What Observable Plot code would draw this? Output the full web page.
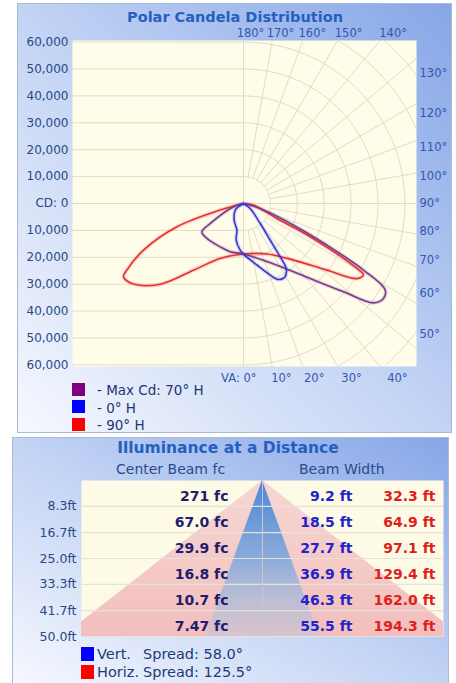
<!DOCTYPE html>
<html><head><meta charset="utf-8">
<script src="https://cdn.jsdelivr.net/npm/d3@7"></script>
<script src="https://cdn.jsdelivr.net/npm/@observablehq/plot@0.6"></script>
<style>
html,body{margin:0;padding:0;background:#fff;width:456px;height:683px;overflow:hidden;font-family:"DejaVu Sans",sans-serif;}
.panel{position:absolute;overflow:hidden;box-sizing:border-box;border:1px solid #a9b9d6;
 background:linear-gradient(to bottom left,#86a6e7 0%,#c2d3f4 50%,#f6f8fe 100%);}
.abs{position:absolute;white-space:pre;line-height:1;}
.sw{position:absolute;}
svg{max-width:none !important;}
</style></head><body>
<div id="p1" class="panel" style="left:17px;top:3px;width:435px;height:430px"></div>
<div id="p2" class="panel" style="left:12px;top:437px;width:437px;height:250px"></div>
<script>
// ---------------- DATA ----------------
// Polar candela distribution: candela by vertical angle (VA), per horizontal plane
const cdTicks = [60000,50000,40000,30000,20000,10000,0,-10000,-20000,-30000,-40000,-50000,-60000];
const cdTickLabels = ["60,000","50,000","40,000","30,000","20,000","10,000","CD: 0","10,000","20,000","30,000","40,000","50,000","60,000"];
const vaTicks = [0,10,20,30,40,50,60,70,80,90,100,110,120,130,140,150,160,170,180];
const vaTickLabels = ["VA: 0°","10°","20°","30°","40°","50°","60°","70°","80°","90°","100°","110°","120°","130°","140°","150°","160°","170°","180°"];

// Max Cd: 70° H (right half = 70° H, left half = 250° H)
const h70_va  = [0, 28.5, 41.6, 48.6, 52.6, 55.8, 58.6, 61, 63.5, 66.6, 73.3, 90];
const h70_cd  = [18800, 26100, 37300, 49600, 60800, 62900, 61700, 51000, 34600, 20300, 6500, 0];
const h250_va = [0, 15.4, 28.3, 46.3, 55.8, 59, 71.7, 90];
const h250_cd = [18800, 18600, 18300, 18800, 18700, 14400, 3900, 0];
// 0° H (right) / 180° H (left)
const h0_va   = [0, 12.3, 20.5, 24.7, 29.6, 33.3, 34.5, 36.1, 39.9, 53, 90];
const h0_cd   = [18800, 23400, 28400, 31100, 31300, 28900, 24000, 16800, 9700, 3100, 0];
const h180_va = [0, 4, 11.3, 13.9, 29.3, 51.5, 90];
const h180_cd = [18800, 17400, 13900, 10200, 7100, 3900, 0];
// 90° H (right) / 270° H (left)
const h90_va  = [0, 25, 41.5, 51.4, 56.5, 59.2, 60.2, 63.5, 65.8, 81, 90];
const h90_cd  = [18800, 20700, 28100, 39700, 50600, 51900, 48600, 27700, 13600, 3700, 0];
const h270_va = [0, 23, 36.9, 45.9, 53.8, 58.6, 60.3, 65, 70.7, 74.2, 90];
const h270_cd = [18800, 22200, 31000, 43100, 50700, 52300, 49900, 41000, 26200, 9000, 0];

const seriesNames  = ["- Max Cd: 70° H", "- 0° H", "- 90° H"];
const seriesColors = ["#800080", "#0000ff", "#ff0000"];
const lineColors   = ["#7a3a8c", "#3636dc", "#ea2e34"];

// Illuminance at a distance
const distFt       = [8.3, 16.7, 25.0, 33.3, 41.7, 50.0];
const distLabels   = ["8.3ft","16.7ft","25.0ft","33.3ft","41.7ft","50.0ft"];
const centerFc     = ["271 fc","67.0 fc","29.9 fc","16.8 fc","10.7 fc","7.47 fc"];
const vertWidthFt  = [9.2, 18.5, 27.7, 36.9, 46.3, 55.5];
const horizWidthFt = [32.3, 64.9, 97.1, 129.4, 162.0, 194.3];
const vertWidthLabels  = ["9.2 ft","18.5 ft","27.7 ft","36.9 ft","46.3 ft","55.5 ft"];
const horizWidthLabels = ["32.3 ft","64.9 ft","97.1 ft","129.4 ft","162.0 ft","194.3 ft"];
const spreadNames  = ["Vert.", "Horiz."];
const spreadValues = ["Spread: 58.0°", "Spread: 125.5°"];
const spreadColors = ["#0000ff", "#ff0000"];

// ---------------- helpers ----------------
const FONT = '"DejaVu Sans", sans-serif';
function place(panel, px, py, el) { // page coords -> panel coords (inside 1px border)
  const r = panel.getBoundingClientRect();
  el.style.left = (px - r.left - 1) + "px";
  el.style.top = (py - r.top - 1) + "px";
  panel.appendChild(el);
  return el;
}
function text(panel, str, x, baseline, size, opts = {}) {
  const el = document.createElement("div");
  el.className = "abs";
  el.textContent = str;
  el.style.fontSize = size + "px";
  el.style.fontFamily = FONT;
  el.style.color = opts.color || "#203a78";
  if (opts.bold) el.style.fontWeight = "bold";
  let top = baseline - 0.846 * size;
  if (opts.center) { el.style.width = "0px"; el.style.display = "flex"; el.style.justifyContent = "center"; }
  return place(panel, x, top, el);
}
function swatch(panel, x, y, s, color) {
  const el = document.createElement("div");
  el.className = "sw";
  el.style.width = s + "px"; el.style.height = s + "px"; el.style.background = color;
  return place(panel, x, y, el);
}

// ---------------- TOP PANEL ----------------
const p1 = document.getElementById("p1");
const rad = Math.PI / 180;
const pxPer10k = 26.9;
const cdPerPx = 10000 / pxPer10k;
const xDom = [-171 * cdPerPx, 173 * cdPerPx];
const yDom = [-163 * cdPerPx, 163 * cdPerPx];

function lobe(lva, lcd, rva, rcd) {
  const pts = [];
  for (let i = lva.length - 1; i >= 0; i--) pts.push({x: -lcd[i] * Math.sin(lva[i] * rad), y: -lcd[i] * Math.cos(lva[i] * rad)});
  for (let i = 1; i < rva.length; i++) pts.push({x: rcd[i] * Math.sin(rva[i] * rad), y: -rcd[i] * Math.cos(rva[i] * rad)});
  return pts;
}
const lobes = [
  lobe(h250_va, h250_cd, h70_va, h70_cd),
  lobe(h180_va, h180_cd, h0_va, h0_cd),
  lobe(h270_va, h270_cd, h90_va, h90_cd)
];

// grid geometry
const gridColor = "#e0dcc6";
const circles = [];
for (let r = 10000; r <= 90000; r += 10000)
  for (let a = 0; a <= 180; a += 2) circles.push({r, x: r * Math.sin(a * rad), y: -r * Math.cos(a * rad)});
const radials = vaTicks.map(a => {
  const r0 = (a % 90 === 0) ? 0 : 10000;
  return {x1: r0 * Math.sin(a * rad), y1: -r0 * Math.cos(a * rad), x2: 200000 * Math.sin(a * rad), y2: -200000 * Math.cos(a * rad)};
});
// angle tick labels at the frame edge along each ray
const vaLabels = vaTicks.map((a, i) => {
  const s = Math.sin(a * rad), c = Math.cos(a * rad);
  const tV = Math.abs(c) > 1e-9 ? yDom[1] / Math.abs(c) : Infinity;
  const tH = s > 1e-9 ? xDom[1] / s : Infinity;
  if (tV <= tH) {
    const yy = c > 0 ? -(yDom[1] + 12 * cdPerPx) : (yDom[1] + 7 * cdPerPx);
    const xx = Math.abs(yy) * s / Math.abs(c);
    return {x: xx, y: yy, label: vaTickLabels[i], side: a === 0 ? "nadir" : "tb"};
  }
  return {x: xDom[1], y: 0.9 * (-xDom[1] * c / s), label: vaTickLabels[i], side: "right"};
});
const angleStyle = {x: "x", y: "y", text: "label", fontSize: 11.5, fill: "#3158ae"};

const plot1 = Plot.plot({
  width: 456, height: 432,
  marginLeft: 72, marginRight: 40, marginTop: 40, marginBottom: 66,
  x: {domain: xDom, axis: null},
  y: {domain: yDom, axis: null},
  style: {background: "transparent", fontFamily: FONT, overflow: "visible", maxWidth: "none"},
  marks: [
    Plot.frame({fill: "#fffde9", stroke: "none"}),
    Plot.ruleY(cdTicks, {y: d => d, x1: () => xDom[0], x2: () => 0, stroke: gridColor, strokeWidth: 1}),
    Plot.line(circles, {x: "x", y: "y", z: "r", stroke: gridColor, strokeWidth: 1, clip: true}),
    Plot.link(radials, {x1: "x1", y1: "y1", x2: "x2", y2: "y2", stroke: gridColor, strokeWidth: 1, clip: true}),
    ...[2, 0, 1].flatMap(k => [
      Plot.line(lobes[k], {x: "x", y: "y", stroke: lineColors[k], strokeWidth: 4, strokeOpacity: 0.18, curve: "catmull-rom", clip: true}),
      Plot.line(lobes[k], {x: "x", y: "y", stroke: lineColors[k], strokeWidth: 1.6, curve: "catmull-rom", clip: true})
    ]),
    Plot.text(cdTicks, {y: d => d, text: (d, i) => cdTickLabels[i], frameAnchor: "left", dx: -4, textAnchor: "end", fontSize: 12, fill: "#2a4886"}),
    Plot.text(vaLabels.filter(d => d.side === "nadir"), {...angleStyle, textAnchor: "end", dx: 13}),
    Plot.text(vaLabels.filter(d => d.side === "tb"), {...angleStyle, textAnchor: "middle", dx: 7}),
    Plot.text(vaLabels.filter(d => d.side === "right"), {...angleStyle, textAnchor: "start", dx: 3})
  ]
});
plot1.style.position = "absolute";
place(p1, 0, 0, plot1);

text(p1, "Polar Candela Distribution", 235, 22.7, 14.5, {bold: true, color: "#2460c0", center: true});
seriesNames.forEach((n, i) => {
  swatch(p1, 72, 382.5 + i * 17.5, 13, seriesColors[i]);
  text(p1, n, 97, 395.5 + i * 17.5, 13.5, {color: "#1f3572"});
});

// ---------------- BOTTOM PANEL ----------------
const p2 = document.getElementById("p2");
const xHalf = 181 / 2.056; // horizontal ft shown each side of the centre line
const cone = [{d: 0, v: 0, h: 0}, ...distFt.map((d, i) => ({d, v: vertWidthFt[i], h: horizWidthFt[i]}))];
const rows = distFt.map((d, i) => ({mid: ((i ? distFt[i - 1] : 0) + d) / 2, fc: centerFc[i], v: vertWidthLabels[i], h: horizWidthLabels[i]}));

const plot2 = Plot.plot({
  width: 456, height: 246,
  marginLeft: 81, marginRight: 13, marginTop: 43, marginBottom: 47,
  x: {domain: [-xHalf, xHalf], axis: null},
  y: {domain: [0, 50], reverse: true, axis: null},
  style: {background: "transparent", fontFamily: FONT, overflow: "visible", maxWidth: "none"},
  marks: [
    Plot.frame({fill: "#fdfbe6", stroke: "none"}),
    Plot.areaX(cone, {y: "d", x1: d => -d.h / 2, x2: d => d.h / 2, fill: "url(#redCone)", clip: true}),
    Plot.areaX(cone, {y: "d", x1: d => -d.v / 2, x2: d => d.v / 2, fill: "url(#blueCone)", clip: true}),
    Plot.ruleY(distFt, {stroke: "#e4e2da", strokeWidth: 1.2}),
    Plot.ruleX([0], {stroke: "#c9c9c9", strokeWidth: 1}),
    Plot.text(distFt, {y: d => d, text: (d, i) => distLabels[i], frameAnchor: "left", dx: -5, textAnchor: "end", fontSize: 12.5, fill: "#2a4886"}),
    Plot.text(rows, {y: "mid", text: "fc", frameAnchor: "left", dx: 147, dy: 3, textAnchor: "end", fontSize: 14, fontWeight: "bold", fill: "#1e1e6e"}),
    Plot.text(rows, {y: "mid", text: "v", frameAnchor: "right", dx: -91, dy: 3, textAnchor: "end", fontSize: 14, fontWeight: "bold", fill: "#2323c8"}),
    Plot.text(rows, {y: "mid", text: "h", frameAnchor: "right", dx: -8, dy: 3, textAnchor: "end", fontSize: 14, fontWeight: "bold", fill: "#e01e1e"})
  ]
});
{
  const defs = d3.select(plot2).insert("defs", ":first-child");
  const rg = defs.append("linearGradient").attr("id", "redCone").attr("x1", 0).attr("y1", 0).attr("x2", 0).attr("y2", 1);
  rg.append("stop").attr("offset", "0%").attr("stop-color", "#f7d6d2");
  rg.append("stop").attr("offset", "100%").attr("stop-color", "#f2bfbd");
  const bg = defs.append("linearGradient").attr("id", "blueCone").attr("x1", 0).attr("y1", 0).attr("x2", 0).attr("y2", 1);
  bg.append("stop").attr("offset", "0%").attr("stop-color", "#4a86d8");
  bg.append("stop").attr("offset", "50%").attr("stop-color", "#86aadb").attr("stop-opacity", 0.95);
  bg.append("stop").attr("offset", "100%").attr("stop-color", "#c0c8dc").attr("stop-opacity", 0.5);
}
plot2.style.position = "absolute";
place(p2, 0, 437, plot2);

text(p2, "Illuminance at a Distance", 228, 454, 15.5, {bold: true, color: "#2460c0", center: true});
text(p2, "Center Beam fc", 116, 474, 14, {color: "#2b4a8c"});
text(p2, "Beam Width", 299, 474, 14, {color: "#2b4a8c"});
spreadNames.forEach((n, i) => {
  swatch(p2, 80.5, 647 + i * 18, 13.5, spreadColors[i]);
  text(p2, n, 97, 659 + i * 18, 14.5, {color: "#203a78"});
  text(p2, spreadValues[i], 143, 659 + i * 18, 14.5, {color: "#203a78"});
});
</script>
</body></html>
